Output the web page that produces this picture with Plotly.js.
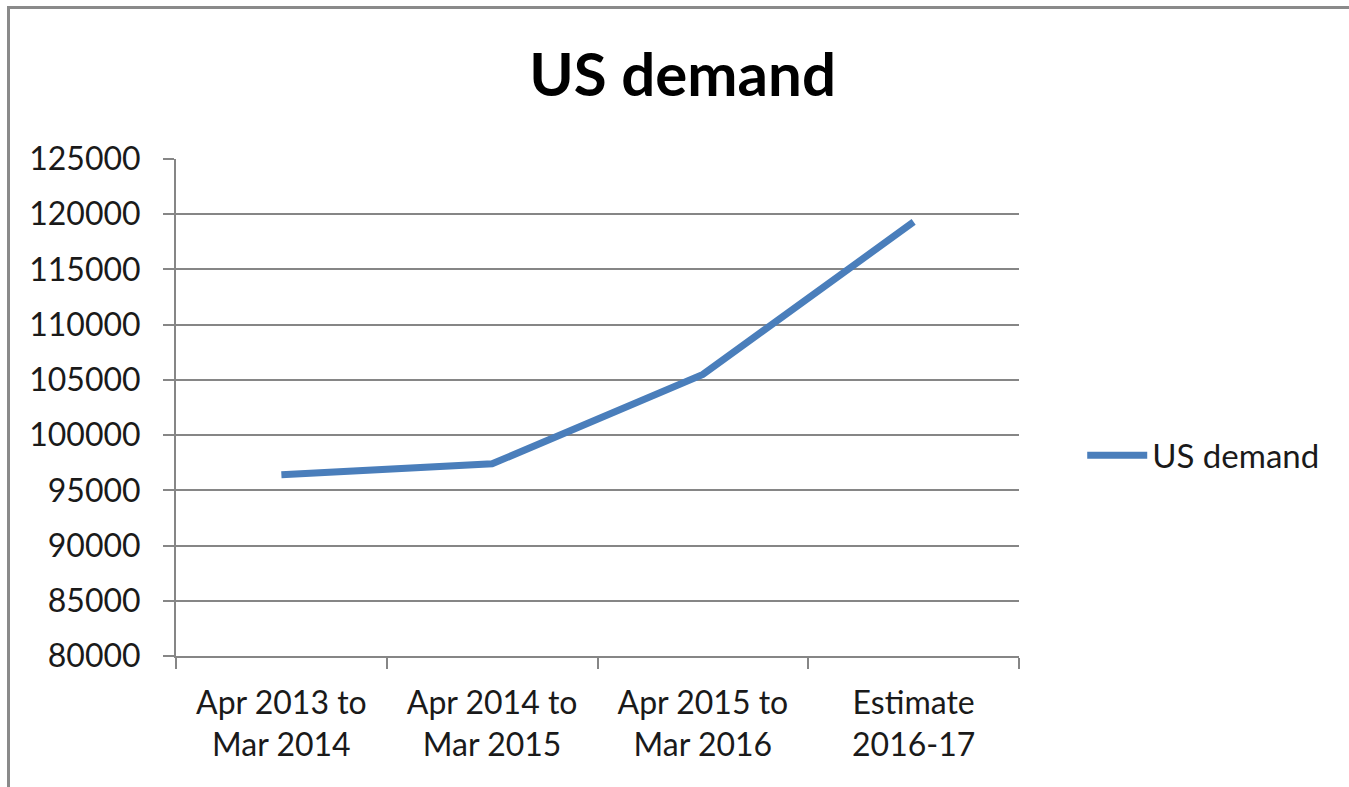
<!DOCTYPE html>
<html>
<head>
<meta charset="utf-8">
<script src="https://cdn.plot.ly/plotly-3.0.1.min.js"></script>
<style>
  html, body { margin: 0; padding: 0; background: #ffffff; }
  #wrap { position: relative; width: 1349px; height: 787px; overflow: hidden; }
  #chart { position: absolute; left: 0; top: 0; width: 1349px; height: 787px; }
  #frame { position: absolute; left: 7px; top: 6px; width: 1400px; height: 900px;
           border-left: 3px solid #8a8a8a; border-top: 3px solid #8a8a8a; pointer-events: none; }
</style>
</head>
<body>
<div id="wrap">
  <div id="chart"></div>
  <div id="frame"></div>
</div>
<script>
const categories = [
  "Apr 2013 to<br>Mar 2014",
  "Apr 2014 to<br>Mar 2015",
  "Apr 2015 to<br>Mar 2016",
  "Estimate<br>2016-17"
];
const usDemand = [96400, 97400, 105500, 119300];
const seriesName = "US demand";
const chartTitle = "US demand";

const FONT = "Lato, 'Open Sans', sans-serif";

const trace = {
  type: "scatter",
  mode: "lines",
  name: seriesName,
  x: categories,
  y: usDemand,
  line: { color: "#4a7ebb", width: 7 },
  hoverinfo: "x+y"
};

const layout = {
  width: 1349,
  height: 787,
  paper_bgcolor: "#ffffff",
  plot_bgcolor: "#ffffff",
  margin: { l: 176, r: 330, t: 159, b: 131 },
  title: {
    text: "<b>" + chartTitle + "</b>",
    font: { family: FONT, size: 60, color: "#000000" },
    xref: "container", x: 0.506, xanchor: "center",
    yref: "container", y: 0.905, yanchor: "middle"
  },
  font: { family: FONT, color: "#1a1a1a" },
  xaxis: {
    type: "category",
    range: [-0.5, 3.5],
    tickson: "boundaries",
    ticks: "outside",
    ticklen: 11,
    tickwidth: 2,
    tickcolor: "#868686",
    showline: true,
    linecolor: "#868686",
    linewidth: 2,
    showgrid: false,
    zeroline: false,
    tickfont: { family: FONT, size: 32, color: "#1a1a1a" },
    ticklabelstandoff: 18,
    fixedrange: true
  },
  yaxis: {
    range: [80000, 125000],
    dtick: 5000,
    tick0: 80000,
    ticks: "outside",
    ticklen: 11,
    tickwidth: 2,
    tickcolor: "#868686",
    showline: true,
    linecolor: "#868686",
    linewidth: 2,
    showgrid: true,
    gridcolor: "#868686",
    gridwidth: 2,
    zeroline: false,
    tickformat: "d",
    tickfont: { family: FONT, size: 32, color: "#1a1a1a" },
    ticklabelstandoff: 16,
    fixedrange: true
  },
  showlegend: true,
  legend: {
    x: 1.075, xanchor: "left",
    y: 0.404, yanchor: "middle",
    font: { family: FONT, size: 33, color: "#1a1a1a" },
    bgcolor: "rgba(0,0,0,0)",
    itemwidth: 60
  }
};

Plotly.newPlot("chart", [trace], layout, { displayModeBar: false, staticPlot: true });
</script>
</body>
</html>
